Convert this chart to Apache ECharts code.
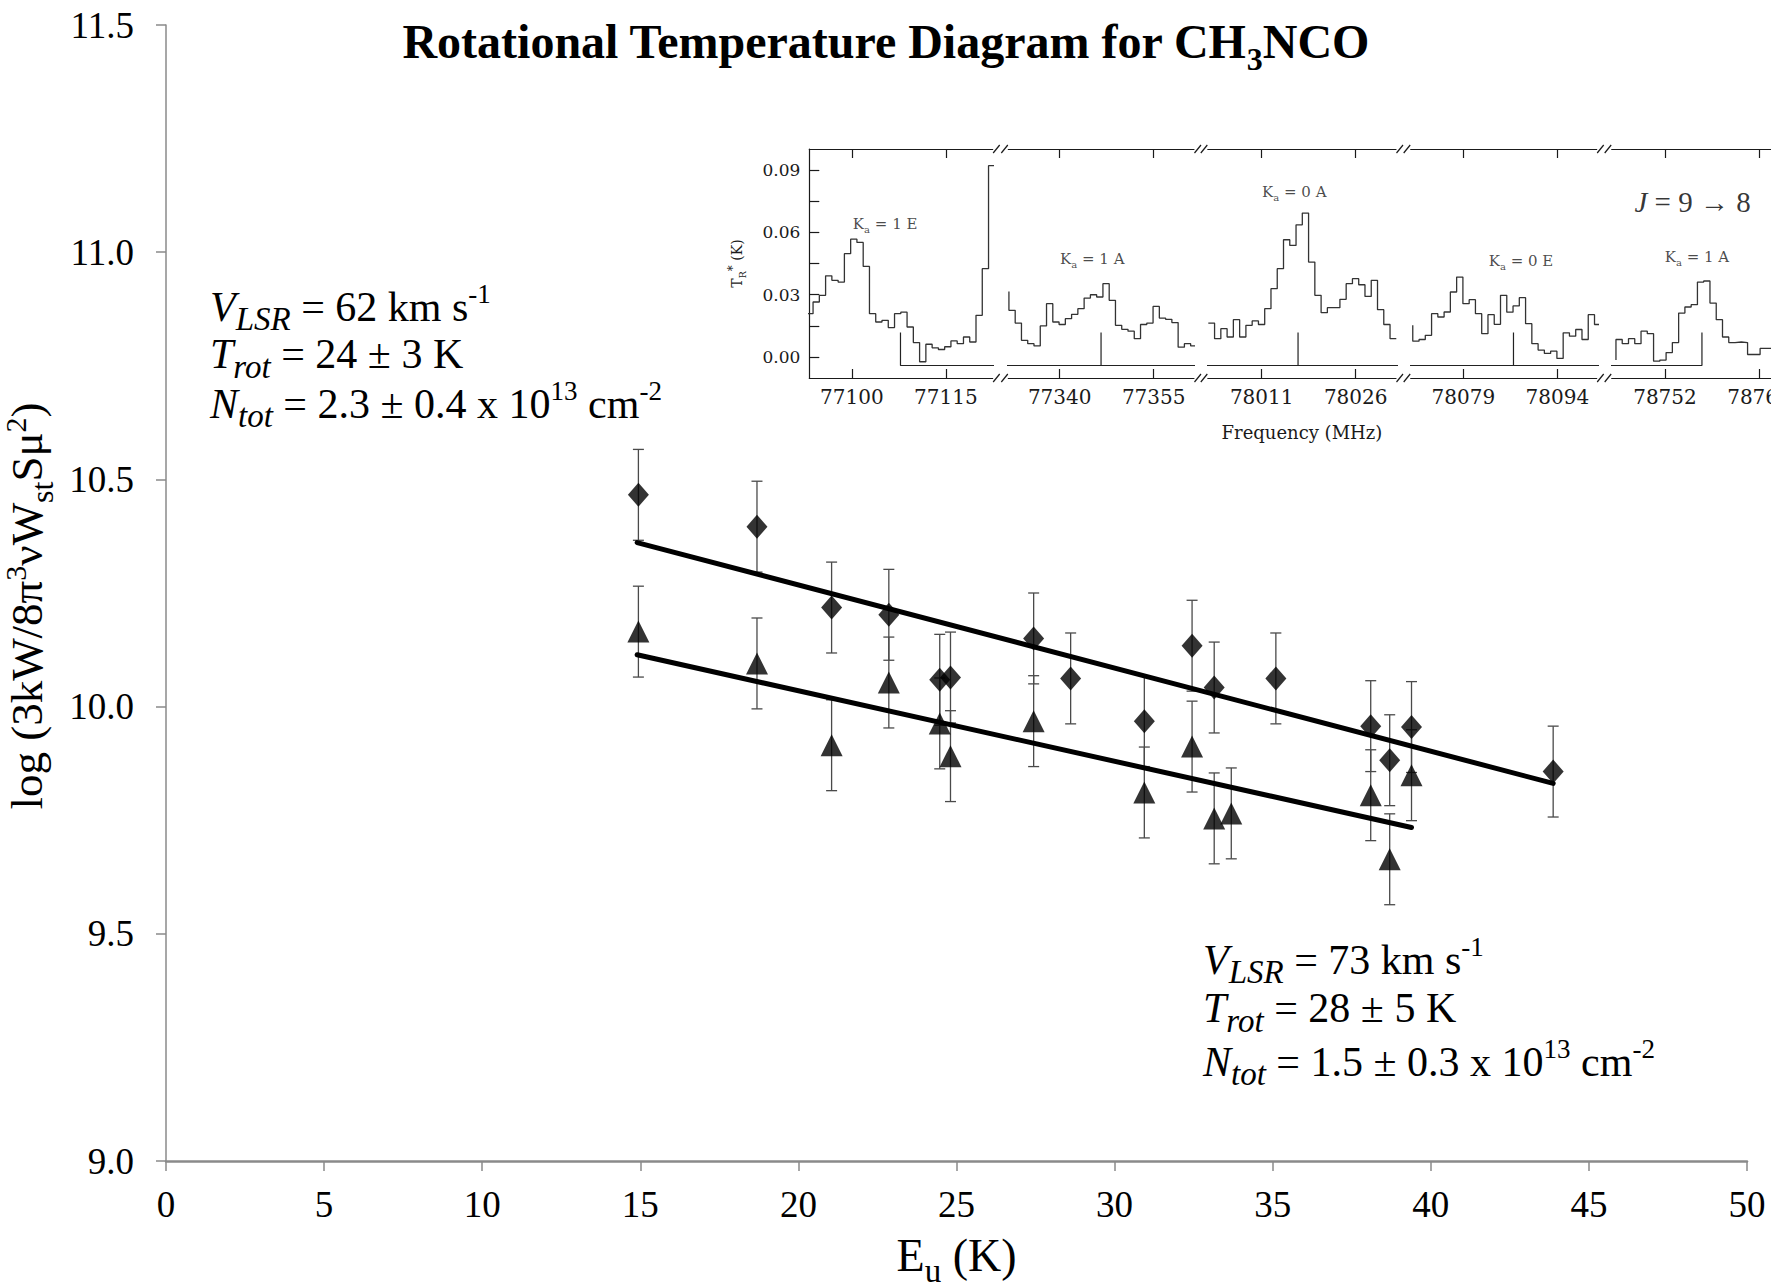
<!DOCTYPE html>
<html>
<head>
<meta charset="utf-8">
<script src="https://cdn.jsdelivr.net/npm/echarts@6/dist/echarts.min.js"></script>
<style>
html,body{margin:0;padding:0;background:#ffffff;}
#c{width:1771px;height:1288px;}
</style>
</head>
<body>
<div id="c"></div>
<script>
// ================= DATA =================
// Rotational diagram: upper-energy (K) and log(3kW/8pi^3 nu W_st S mu^2)
const euDiamond  = [14.94, 18.69, 21.05, 22.86, 24.47, 24.81, 27.44, 28.61, 30.94, 32.45, 33.15, 35.10, 38.10, 38.70, 39.39, 43.87];
const logDiamond = [10.466, 10.396, 10.218, 10.202, 10.059, 10.064, 10.150, 10.062, 9.968, 10.134, 10.042, 10.062, 9.957, 9.882, 9.955, 9.857];
const errDiamond = [0.10, 0.10, 0.10, 0.10, 0.10, 0.10, 0.10, 0.10, 0.10, 0.10, 0.10, 0.10, 0.10, 0.10, 0.10, 0.10];

const euTriangle  = [14.94, 18.69, 21.05, 22.86, 24.47, 24.81, 27.44, 30.94, 32.45, 33.15, 33.69, 38.10, 38.70, 39.39];
const logTriangle = [10.165, 10.095, 9.915, 10.053, 9.963, 9.891, 9.968, 9.811, 9.912, 9.754, 9.765, 9.805, 9.664, 9.849];
const errTriangle = [0.10, 0.10, 0.10, 0.10, 0.10, 0.10, 0.10, 0.10, 0.10, 0.10, 0.10, 0.10, 0.10, 0.10];

// least-squares fit lines (end points)
const fitDiamond  = [[14.90, 10.361], [43.87, 9.831]];
const fitTriangle = [[14.90, 10.114], [39.39, 9.734]];

// main axes
const xTicksMain = {min: 0, max: 50, step: 5};
const yTicksMain = {min: 9.0, max: 11.5, step: 0.5};

// Inset spectrum (J = 9 -> 8), broken frequency axis in 5 windows (MHz)
const segRange = [[77093.2, 77122.46], [77331.8, 77361.43], [78002.4, 78032.43], [78070.6, 78100.28], [78743.5, 78773.55]];
const segTicks = [[77100, 77115], [77340, 77355], [78011, 78026], [78079, 78094], [78752, 78767]];
const specYMin = -0.01, specYMax = 0.10;
const specYLabels = [0.00, 0.03, 0.06, 0.09];
const specYTicks = [0.00, 0.015, 0.03, 0.045, 0.06, 0.075, 0.09];
const chanWidth = 1.0; // MHz per channel
const specStart = [77092.8, 77331.9, 78002.48, 78070.93, 78744.18];
const specLead  = [0.0164, 0.0316, null, 0.0153, -0.0014];
const spec1 = [0.0209, 0.0265, 0.0297, 0.0391, 0.0369, 0.0361, 0.0497, 0.0567, 0.0551, 0.0436, 0.0209, 0.0169, 0.0177, 0.0142, 0.0209, 0.0216, 0.0145, 0.0070, -0.0022, 0.0062, 0.0045, 0.0037, 0.0050, 0.0078, 0.0065, 0.0097, 0.0073, 0.0201, 0.0425, 0.0920];
const spec2 = [0.0225, 0.0164, 0.0081, 0.0065, 0.0054, 0.0150, 0.0257, 0.0169, 0.0157, 0.0185, 0.0206, 0.0233, 0.0284, 0.0300, 0.0289, 0.0353, 0.0273, 0.0153, 0.0134, 0.0125, 0.0089, 0.0157, 0.0164, 0.0244, 0.0188, 0.0182, 0.0166, 0.0048, 0.0065, 0.0054];
const spec3 = [0.0164, 0.0089, 0.0137, 0.0097, 0.0180, 0.0097, 0.0153, 0.0174, 0.0157, 0.0233, 0.0329, 0.0425, 0.0564, 0.0537, 0.0636, 0.0692, 0.0457, 0.0297, 0.0214, 0.0238, 0.0238, 0.0278, 0.0353, 0.0377, 0.0348, 0.0292, 0.0369, 0.0228, 0.0157, 0.0089];
const spec4 = [0.0077, 0.0085, 0.0105, 0.0209, 0.0193, 0.0217, 0.0313, 0.0385, 0.0257, 0.0276, 0.0209, 0.0113, 0.0204, 0.0158, 0.0297, 0.0216, 0.0246, 0.0286, 0.0161, 0.0065, 0.0034, 0.0018, 0.0029, -0.0006, 0.0117, 0.0101, 0.0133, 0.0085, 0.0204, 0.0157];
const spec5 = [0.0085, 0.0065, 0.0089, 0.0065, 0.0125, 0.0113, -0.0019, -0.0014, 0.0022, 0.0070, 0.0212, 0.0241, 0.0252, 0.0361, 0.0366, 0.0260, 0.0180, 0.0097, 0.0070, 0.0073, 0.0070, 0.0013, 0.0013, 0.0042, 0.0042];
const specValues = [spec1, spec2, spec3, spec4, spec5];
// predicted line positions (stick markers)
const lineFreqs = [77107.75, 77346.6, 78016.8, 78087.0, 78757.9];
const stickBase = -0.004, stickTop = 0.0118;
// transition labels
const kaLabels = [
  {seg: 0, f: 77105.3, t: 0.0633, text: '1 E'},
  {seg: 1, f: 77345.2, t: 0.0465, text: '1 A'},
  {seg: 2, f: 78016.2, t: 0.0786, text: '0 A'},
  {seg: 3, f: 78088.2, t: 0.0457, text: '0 E'},
  {seg: 4, f: 78757.1, t: 0.0473, text: '1 A'}
];
const jLabel = {seg: 4, f: 78756.4, t: 0.0744};

// ================= LAYOUT / STYLE =================
const SERIF = 'Liberation Serif';
const ISERIF = 'DejaVu Serif';
const PX_PER_MHZ = 6.267;
const segLeft = [809.3, 1008.3, 1207.8, 1410.7, 1611.7];
const insetTop = 149, insetHeight = 229;
const gapExt = 1.4; // MHz the baseline runs into each axis break

const chart = echarts.init(document.getElementById('c'), null, {renderer: 'svg', width: 1771, height: 1288});

const grids = [{left: 166, right: 24, top: 25, bottom: 127, outerBoundsMode: 'none', containLabel: false}];
segRange.forEach((r, k) => grids.push({
  left: segLeft[k], top: insetTop, width: (r[1] - r[0]) * PX_PER_MHZ, height: insetHeight,
  outerBoundsMode: 'none', containLabel: false
}));

const axisGray = '#8a8a8a';
const inkColor = '#1a1a1a';

const xAxes = [{
  gridIndex: 0, type: 'value', min: xTicksMain.min, max: xTicksMain.max, interval: xTicksMain.step,
  axisLine: {show: true, onZero: false, lineStyle: {color: axisGray, width: 2.5}},
  axisTick: {show: true, length: 10, lineStyle: {color: axisGray, width: 1.5}},
  axisLabel: {fontFamily: SERIF, fontSize: 37, color: '#000', margin: 25},
  splitLine: {show: false},
  name: '{n|E}{s|u}{n| (K)}', nameLocation: 'middle', nameGap: 71,
  nameTextStyle: {rich: {
    n: {fontFamily: SERIF, fontSize: 46, color: '#000', verticalAlign: 'bottom', padding: [0, 0, 9, 0]},
    s: {fontFamily: SERIF, fontSize: 33, color: '#000', verticalAlign: 'bottom'}
  }}
}];
const yAxes = [{
  gridIndex: 0, type: 'value', min: yTicksMain.min, max: yTicksMain.max, interval: yTicksMain.step,
  axisLine: {show: true, onZero: false, lineStyle: {color: axisGray, width: 1.5}},
  axisTick: {show: true, length: 10, lineStyle: {color: axisGray, width: 1.5}},
  axisLabel: {fontFamily: SERIF, fontSize: 37, color: '#000', margin: 32, formatter: v => v.toFixed(1)},
  splitLine: {show: false},
  name: '{n|log (3kW/8π}{p|3}{n|νW}{s|st}{n|Sμ}{p|2}{n|)}',
  nameLocation: 'middle', nameRotate: 90, nameGap: 92,
  nameTextStyle: {padding: [0, 26, 0, 0], rich: {
    n: {fontFamily: SERIF, fontSize: 45, color: '#000', verticalAlign: 'bottom', padding: [0, 0, 9, 0]},
    s: {fontFamily: SERIF, fontSize: 32, color: '#000', verticalAlign: 'bottom'},
    p: {fontFamily: SERIF, fontSize: 30, color: '#000', verticalAlign: 'bottom', padding: [0, 0, 28, 0]}
  }}
}];

// inset bottom axes
segRange.forEach((r, k) => {
  const ax = {
    gridIndex: k + 1, type: 'value', min: r[0], max: r[1], position: 'bottom',
    axisLine: {show: true, onZero: false, lineStyle: {color: inkColor, width: 1.2}},
    axisTick: {show: true, inside: true, length: 9, customValues: segTicks[k], lineStyle: {color: inkColor, width: 1.2}},
    axisLabel: {show: true, customValues: segTicks[k], fontFamily: ISERIF, fontSize: 20, color: inkColor, margin: 9,
      formatter: v => String(Math.round(v))},
    splitLine: {show: false}
  };
  if (k === 2) {
    ax.name = 'Frequency (MHz)';
    ax.nameLocation = 'middle';
    ax.nameGap = 45;
    ax.nameTextStyle = {fontFamily: ISERIF, fontSize: 18, color: inkColor};
  }
  xAxes.push(ax);
});
// inset top axes
segRange.forEach((r, k) => {
  xAxes.push({
    gridIndex: k + 1, type: 'value', min: r[0], max: r[1], position: 'top',
    axisLine: {show: true, onZero: false, lineStyle: {color: inkColor, width: 1.2}},
    axisTick: {show: true, inside: true, length: 9, customValues: segTicks[k], lineStyle: {color: inkColor, width: 1.2}},
    axisLabel: {show: false},
    splitLine: {show: false}
  });
});
// inset y axes
segRange.forEach((r, k) => {
  if (k === 0) {
    yAxes.push({
      gridIndex: 1, type: 'value', min: specYMin, max: specYMax,
      axisLine: {show: true, onZero: false, lineStyle: {color: inkColor, width: 1.2}},
      axisTick: {show: true, inside: true, length: 10, customValues: specYTicks, lineStyle: {color: inkColor, width: 1.2}},
      axisLabel: {show: true, customValues: specYLabels, formatter: v => v.toFixed(2), fontFamily: ISERIF, fontSize: 17, color: inkColor, margin: 9},
      splitLine: {show: false},
      name: '{t|T}{s|R}{p|*}{t| (K)}', nameLocation: 'middle', nameRotate: 90, nameGap: 62,
      nameTextStyle: {rich: {
        t: {fontFamily: ISERIF, fontSize: 14, color: inkColor, verticalAlign: 'bottom', padding: [0, 0, 3, 0]},
        s: {fontFamily: ISERIF, fontSize: 9.5, color: inkColor, verticalAlign: 'bottom'},
        p: {fontFamily: ISERIF, fontSize: 12, color: inkColor, verticalAlign: 'bottom', padding: [0, 0, 8, 0]}
      }}
    });
  } else {
    yAxes.push({gridIndex: k + 1, type: 'value', min: specYMin, max: specYMax, show: false,
      axisLine: {onZero: false}, splitLine: {show: false}});
  }
});

// ---------- series ----------
function errBarSeries(xs, ys, es) {
  return {
    type: 'custom', xAxisIndex: 0, yAxisIndex: 0, z: 2,
    encode: {x: 0, y: 1},
    data: xs.map((x, i) => [x, ys[i], es[i]]),
    renderItem: (params, api) => {
      const x = api.value(0), y = api.value(1), e = api.value(2);
      const top = api.coord([x, y + e]);
      const bot = api.coord([x, y - e]);
      const hw = 5.5;
      const st = {stroke: '#4a4a4a', lineWidth: 1.3};
      return {type: 'group', children: [
        {type: 'line', shape: {x1: top[0], y1: top[1], x2: bot[0], y2: bot[1]}, style: st},
        {type: 'line', shape: {x1: top[0] - hw, y1: top[1], x2: top[0] + hw, y2: top[1]}, style: st},
        {type: 'line', shape: {x1: bot[0] - hw, y1: bot[1], x2: bot[0] + hw, y2: bot[1]}, style: st}
      ]};
    }
  };
}

const series = [
  errBarSeries(euDiamond, logDiamond, errDiamond),
  errBarSeries(euTriangle, logTriangle, errTriangle),
  {type: 'line', xAxisIndex: 0, yAxisIndex: 0, data: fitDiamond, symbol: 'none', z: 3,
    lineStyle: {color: '#000', width: 5, cap: 'round'}},
  {type: 'line', xAxisIndex: 0, yAxisIndex: 0, data: fitTriangle, symbol: 'none', z: 3,
    lineStyle: {color: '#000', width: 5, cap: 'round'}},
  {type: 'scatter', xAxisIndex: 0, yAxisIndex: 0, symbol: 'diamond', symbolSize: [21, 24], z: 4,
    itemStyle: {color: '#000'}, data: euDiamond.map((x, i) => [x, logDiamond[i]])},
  {type: 'scatter', xAxisIndex: 0, yAxisIndex: 0, symbol: 'triangle', symbolSize: [22, 22], z: 4,
    itemStyle: {color: '#000'}, data: euTriangle.map((x, i) => [x, logTriangle[i]])}
];

specValues.forEach((vals, k) => {
  const f0 = specStart[k];
  const pts = [];
  if (specLead[k] !== null) pts.push([f0, specLead[k]]);
  vals.forEach((v, i) => pts.push([f0 + i * chanWidth, v]));
  pts.push([f0 + vals.length * chanWidth, vals[vals.length - 1]]);
  series.push({
    type: 'line', xAxisIndex: k + 1, yAxisIndex: k + 1, step: 'end', data: pts,
    symbol: 'none', clip: true, lineStyle: {color: '#333', width: 1.3}, z: 3
  });
  // baseline with stick marker
  const lf = lineFreqs[k];
  const r = segRange[k];
  const base = [];
  if (k === 0) {
    base.push([lf, stickTop], [lf, stickBase]);
  } else {
    base.push([r[0] - gapExt, stickBase], [lf, stickBase], [lf, stickTop], [lf, stickBase]);
  }
  if (k < segRange.length - 1) base.push([r[1] + gapExt, stickBase]);
  series.push({
    type: 'line', xAxisIndex: k + 1, yAxisIndex: k + 1, data: base, symbol: 'none', clip: false,
    lineStyle: {color: '#222', width: 1.2}, z: 3
  });
});

const kaRich = {
  k: {fontFamily: ISERIF, fontSize: 15, color: inkColor, verticalAlign: 'bottom', padding: [0, 0, 3, 0]},
  a: {fontFamily: ISERIF, fontSize: 10, color: inkColor, verticalAlign: 'bottom'}
};
kaLabels.forEach(L => {
  series.push({
    type: 'scatter', xAxisIndex: L.seg + 1, yAxisIndex: L.seg + 1, symbolSize: 0, silent: true, z: 5,
    data: [[L.f, L.t]],
    label: {show: true, position: 'inside', formatter: '{k|K}{a|a}{k| = ' + L.text + '}', rich: kaRich}
  });
});
series.push({
  type: 'scatter', xAxisIndex: jLabel.seg + 1, yAxisIndex: jLabel.seg + 1, symbolSize: 0, silent: true, z: 5,
  data: [[jLabel.f, jLabel.t]],
  label: {show: true, position: 'inside', formatter: '{j|J}{n| = 9 → 8}', rich: {
    j: {fontFamily: SERIF, fontSize: 29, fontStyle: 'italic', color: '#000'},
    n: {fontFamily: SERIF, fontSize: 29, color: '#000'}
  }}
});

chart.setOption({
  animation: false,
  backgroundColor: '#ffffff',
  title: {
    text: '{b|Rotational Temperature Diagram for CH}{s|3}{b|NCO}',
    left: 'center', top: 17, padding: 0,
    textStyle: {rich: {
      b: {fontFamily: SERIF, fontSize: 48, fontWeight: 'bold', color: '#000', verticalAlign: 'bottom', padding: [0, 0, 10, 0]},
      s: {fontFamily: SERIF, fontSize: 32, fontWeight: 'bold', color: '#000', verticalAlign: 'bottom'}
    }}
  },
  grid: grids,
  xAxis: xAxes,
  yAxis: yAxes,
  series: series
});

// ---------- annotation texts and axis-break marks ----------
const annRich = {
  n: {fontFamily: SERIF, fontSize: 42, color: '#000', verticalAlign: 'bottom', padding: [0, 0, 8, 0]},
  i: {fontFamily: SERIF, fontSize: 42, fontStyle: 'italic', color: '#000', verticalAlign: 'bottom', padding: [0, 0, 8, 0]},
  s: {fontFamily: SERIF, fontSize: 33, fontStyle: 'italic', color: '#000', verticalAlign: 'bottom'},
  p: {fontFamily: SERIF, fontSize: 27, color: '#000', verticalAlign: 'bottom', padding: [0, 0, 28, 0]}
};
const annBlocks = [
  {x: 210, ys: [308, 358, 405], lines: [
    '{i|V}{s|LSR}{n| = 62 km s}{p|-1}',
    '{i|T}{s|rot}{n| = 24 ± 3 K}',
    '{i|N}{s|tot}{n| = 2.3 ± 0.4 x 10}{p|13}{n| cm}{p|-2}'
  ]},
  {x: 1203, ys: [961, 1012, 1063], lines: [
    '{i|V}{s|LSR}{n| = 73 km s}{p|-1}',
    '{i|T}{s|rot}{n| = 28 ± 5 K}',
    '{i|N}{s|tot}{n| = 1.5 ± 0.3 x 10}{p|13}{n| cm}{p|-2}'
  ]}
];
const graphics = [];
annBlocks.forEach(b => b.lines.forEach((t, i) => {
  graphics.push({type: 'text', x: b.x, y: b.ys[i], z: 10,
    style: {text: t, rich: annRich, align: 'left', verticalAlign: 'middle'}});
}));

for (let k = 0; k < segRange.length - 1; k++) {
  const pe1 = chart.convertToPixel({gridIndex: k + 1}, [segRange[k][1], specYMax]);
  const pe2 = chart.convertToPixel({gridIndex: k + 1}, [segRange[k][1], specYMin]);
  const ps = chart.convertToPixel({gridIndex: k + 2}, [segRange[k + 1][0], specYMax]);
  const xe = pe1[0], xs = ps[0];
  [pe1[1], pe2[1]].forEach(y => {
    graphics.push({type: 'line', z: 10, shape: {x1: xe + 0.5, y1: y + 4, x2: xe + 7, y2: y - 4},
      style: {stroke: inkColor, lineWidth: 1.2}});
    graphics.push({type: 'line', z: 10, shape: {x1: xs - 7, y1: y + 4, x2: xs - 0.5, y2: y - 4},
      style: {stroke: inkColor, lineWidth: 1.2}});
  });
}
chart.setOption({graphic: graphics});
</script>
</body>
</html>
